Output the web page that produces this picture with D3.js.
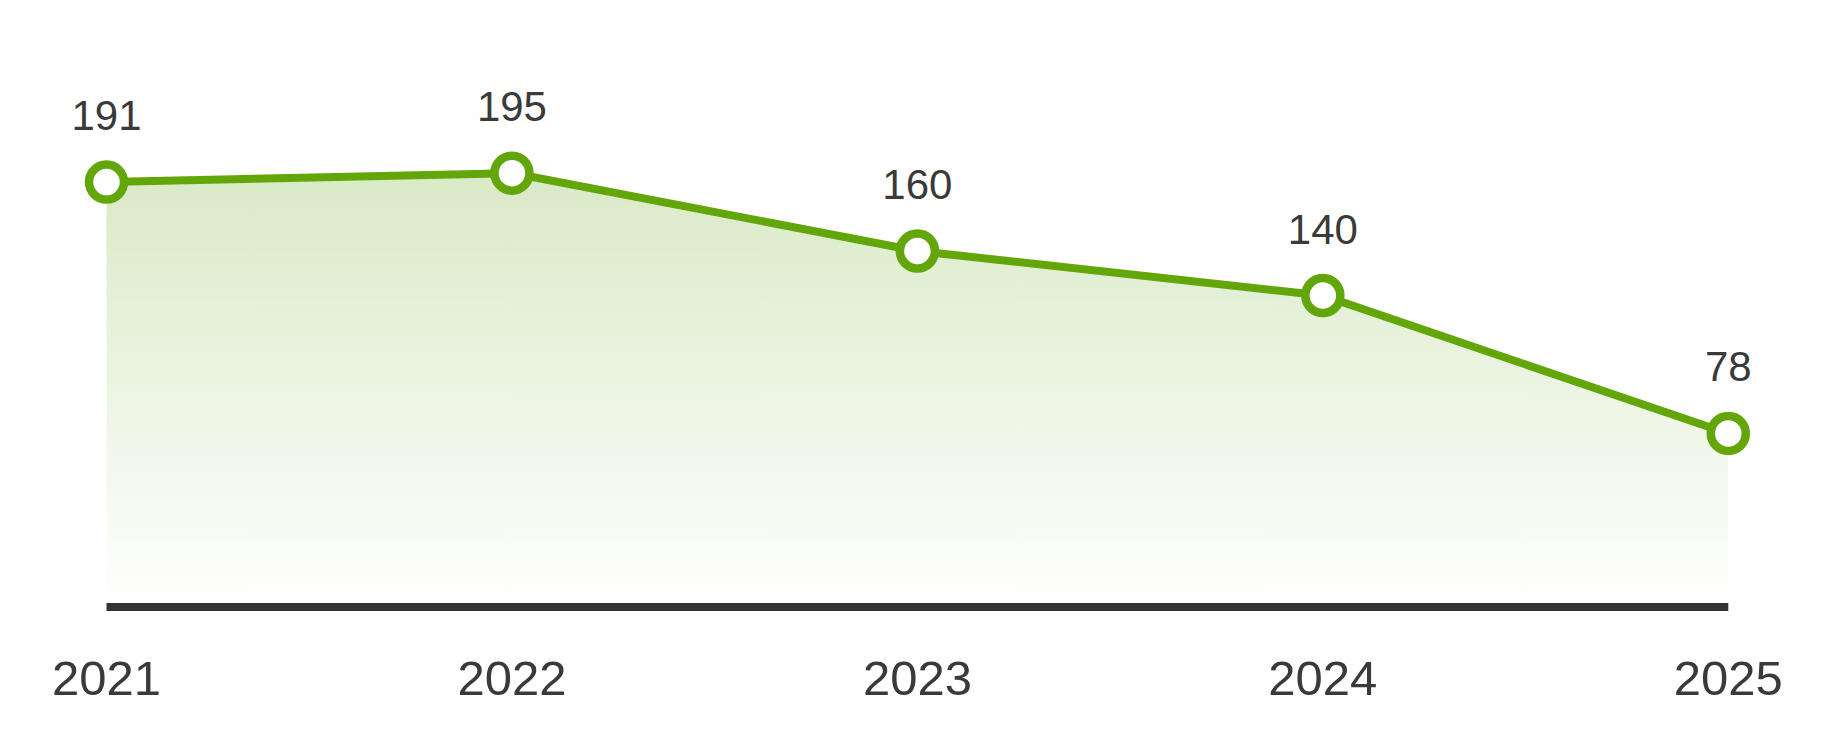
<!DOCTYPE html>
<html>
<head>
<meta charset="utf-8">
<script src="https://cdn.jsdelivr.net/npm/d3@7"></script>
<style>
	html, body { margin: 0; padding: 0; background: #fff; }
	svg { display: block; }
	text { font-family: "Liberation Sans", Arial, sans-serif; fill: #3a3a3a; }
</style>
</head>
<body>
<svg id="chart" width="1835" height="739"></svg>
<script>
var years = ["2021", "2022", "2023", "2024", "2025"],
	values = [191, 195, 160, 140, 78];

var green = "#62a60a",
	svg = d3.select("#chart");

var data = years.map(function(y, i) { return { year: y, value: values[i] }; });

var x = d3.scalePoint()
	.domain(years)
	.range([106.5, 1728.3]);
var y = d3.scaleLinear()
	.domain([0, 200])
	.range([607, 162]);

// gradient under the line
var grad = svg.append("defs").append("linearGradient")
	.attr("id", "fade")
	.attr("gradientUnits", "userSpaceOnUse")
	.attr("x1", 0).attr("x2", 0)
	.attr("y1", y(195)).attr("y2", y(0));
grad.append("stop").attr("offset", "0%").attr("stop-color", "#d9eac6");
grad.append("stop").attr("offset", "100%").attr("stop-color", "#ffffff");

svg.append("path")
	.datum(data)
	.attr("fill", "url(#fade)")
	.attr("d", d3.area()
		.x(function(d) { return x(d.year); })
		.y0(y(0))
		.y1(function(d) { return y(d.value); }));

// baseline
svg.append("line")
	.attr("x1", x(years[0])).attr("x2", x(years[years.length-1]))
	.attr("y1", y(0)).attr("y2", y(0))
	.attr("stroke", "#333333")
	.attr("stroke-width", 8);

svg.append("path")
	.datum(data)
	.attr("fill", "none")
	.attr("stroke", green)
	.attr("stroke-width", 8)
	.attr("d", d3.line()
		.x(function(d) { return x(d.year); })
		.y(function(d) { return y(d.value); }));

svg.selectAll(".dot")
	.data(data)
	.enter()
	.append("circle")
	.attr("class", "dot")
	.attr("cx", function(d) { return x(d.year); })
	.attr("cy", function(d) { return y(d.value); })
	.attr("r", 17.5)
	.attr("fill", "#fff")
	.attr("stroke", green)
	.attr("stroke-width", 8.5);

svg.selectAll(".val")
	.data(data)
	.enter()
	.append("text")
	.attr("class", "val")
	.attr("x", function(d) { return x(d.year); })
	.attr("y", function(d) { return y(d.value) - 52; })
	.attr("text-anchor", "middle")
	.style("font-size", "42px")
	.text(function(d) { return d.value; });

// year labels
svg.selectAll(".yr")
	.data(years)
	.enter()
	.append("text")
	.attr("class", "yr")
	.attr("x", function(d) { return x(d); })
	.attr("y", 695)
	.attr("text-anchor", "middle")
	.style("font-size", "49px")
	.text(function(d) { return d; });
</script>
</body>
</html>
